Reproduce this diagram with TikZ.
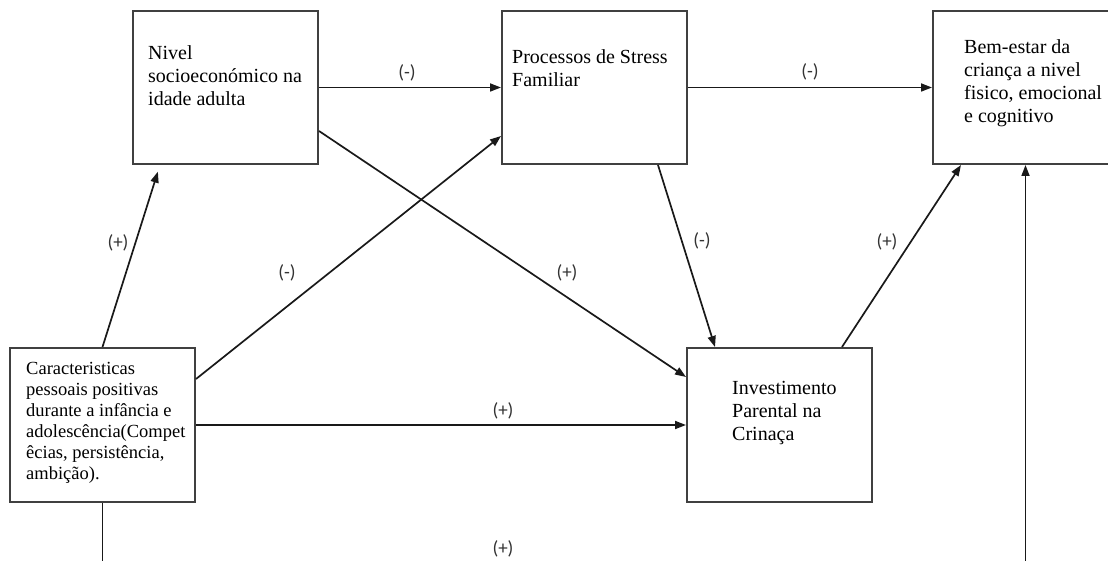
\documentclass[tikz,border=0pt]{standalone}
\usepackage{fontspec}
\setmainfont{Liberation Serif}
\newfontfamily\signfont{Carlito}
\usetikzlibrary{arrows.meta}
\begin{document}
\begin{tikzpicture}[x=1pt,y=-1pt,
  box/.style={draw=black!75, line width=2pt, minimum width=185pt, minimum height=153pt, inner sep=0pt},
  boxtext/.style={anchor=north west, inner sep=0pt, align=left, font=\fontsize{20}{23}\selectfont},
  link/.style={draw=black!90, line width=1.7pt, -{Triangle[length=11pt,width=8pt]}},
  sign/.style={font=\signfont\fontsize{19}{22}\selectfont, inner sep=0pt, text=black!80}]
\clip (0,0) rectangle (1108,561);

% boxes
\node[box] (A) at (225.5,87.5) {};
\node[box] (B) at (594.5,87.5) {};
\node[box] (C) at (1025.5,87.5) {};
\node[box, minimum height=154pt] (D) at (102.5,425) {};
\node[box, minimum height=154pt] (E) at (779.5,425) {};

% box texts
\node[boxtext] (tA) at (148,43) {\strut Nivel\\socioeconómico na\\idade adulta};
\node[boxtext] (tB) at (512,47) {\strut Processos de Stress\\Familiar};
\node[boxtext] (tC) at (964,37) {\strut Bem-estar da\\criança a nivel\\fisico, emocional\\e cognitivo};
\node[boxtext] (tE) at (732,378) {\strut Investimento\\Parental na\\Crinaça};
\node[boxtext, font=\fontsize{18.5}{21}\selectfont] (tD) at (26,360)
  {\strut Caracteristicas\\pessoais positivas\\durante a infância e\\adolescência(Compet\\êcias, persistência,\\ambição).};

% connectors
\draw[link] (A.east) -- (B.west);
\draw[link] (B.east) -- (C.west);
\draw[link, shorten >=7pt] (D.north) -- ([xshift=28pt]A.south west);
\draw[link] ([yshift=-32pt]D.north east) -- ([yshift=29pt]B.south west);
\draw[link] ([yshift=34pt]A.south east) -- ([yshift=-30pt]E.north west);
\draw[link] (D.east) -- (E.west);
\draw[link] ([xshift=-30pt]B.south east) -- ([xshift=29pt]E.north west);
\draw[link] ([xshift=-31pt]E.north east) -- ([xshift=29pt]C.south west);
\coordinate (dl) at (D.south |- 0,620);
\coordinate (cl) at (C.south |- 0,620);
\draw[link] (D.south) -- (dl) -- (cl) -- (C.south);

% signs
\node[sign] (s1) at (407,73) {(-)};
\node[sign] (s2) at (810,72) {(-)};
\node[sign] (s3) at (118,243) {(+)};
\node[sign] (s4) at (287,273) {(-)};
\node[sign] (s5) at (567,273) {(+)};
\node[sign] (s6) at (503,411) {(+)};
\node[sign] (s7) at (702,241) {(-)};
\node[sign] (s8) at (887,242) {(+)};
\node[sign] (s9) at (503,549) {(+)};
\end{tikzpicture}
\end{document}
